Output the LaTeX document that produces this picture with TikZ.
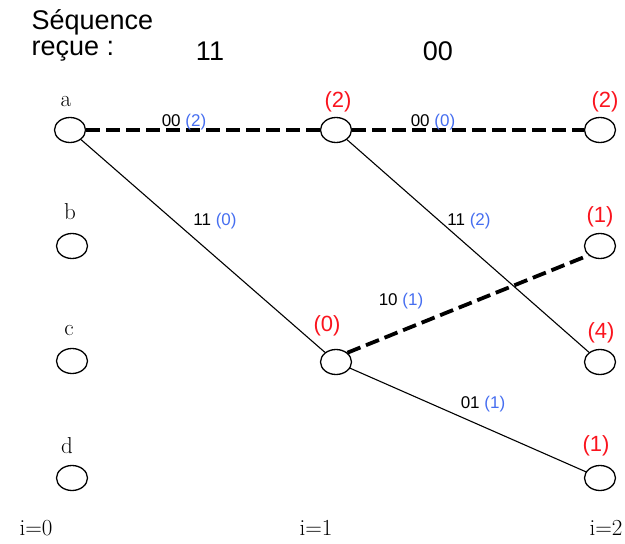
\documentclass[tikz,border=0pt]{standalone}
\usepackage{fontspec}
\setsansfont{Liberation Sans}
\usetikzlibrary{shapes.geometric}
\definecolor{cred}{RGB}{250,20,30}
\definecolor{cblue}{RGB}{70,110,240}
\begin{document}
\begin{tikzpicture}[x=1pt,y=-1pt,
  st/.style={draw,ellipse,line width=1.3pt,minimum width=31pt,minimum height=25pt,inner sep=0pt},
  lett/.style={font=\fontsize{23}{23}\selectfont},
  cost/.style={text=cred,font=\sffamily\fontsize{22}{22}\selectfont},
  elab/.style={font=\sffamily\fontsize{17}{17}\selectfont},
  surv/.style={line width=3.8pt,dash pattern=on 14pt off 6pt},
  other/.style={line width=1.1pt},
  ttl/.style={font=\sffamily\fontsize{27}{27}\selectfont}]
\useasboundingbox (0,0) rectangle (625,544);
% title
\node[ttl,anchor=west] (t1) at (28,22) {Séquence};
\node[ttl,anchor=west] (t2) at (28,51) {reçue :};
\node[ttl] (s1) at (210,51) {11};
\node[ttl] (s2) at (438,51) {00};
% states
\node[st] (a0) at (70,130) {};
\node[st] (b0) at (72,246) {};
\node[st] (c0) at (72,361) {};
\node[st] (d0) at (72,478) {};
\node[st] (a1) at (336,130) {};
\node[st] (c1) at (336,362) {};
\node[st] (a2) at (600,130) {};
\node[st] (b2) at (600,246) {};
\node[st] (c2) at (600,362) {};
\node[st] (d2) at (600,478) {};
% state letters
\node[lett] (la) at (66,102) {a};
\node[lett] (lb) at (70,212) {b};
\node[lett] (lc) at (69,331) {c};
\node[lett] (ld) at (67,446) {d};
% costs
\node[cost] (ka1) at (338,102) {(2)};
\node[cost] (kc1) at (327,326) {(0)};
\node[cost] (ka2) at (605,102) {(2)};
\node[cost] (kb2) at (600,217) {(1)};
\node[cost] (kc2) at (601,333) {(4)};
\node[cost] (kd2) at (596,446) {(1)};
% edges
\draw[other] (a0) -- (c1);
\draw[other] (a1) -- (c2);
\draw[other] (c1) -- (d2);
\draw[surv] (a0) -- (a1);
\draw[surv] (a1) -- (a2);
\draw[surv] (c1.north east) -- (b2.south west);
% edge labels
\node[elab] (e1) at (184,122) {00 \textcolor{cblue}{(2)}};
\node[elab] (e2) at (215,221) {11 \textcolor{cblue}{(0)}};
\node[elab] (e3) at (433,122) {00 \textcolor{cblue}{(0)}};
\node[elab] (e4) at (469,221) {11 \textcolor{cblue}{(2)}};
\node[elab] (e5) at (401,301) {10 \textcolor{cblue}{(1)}};
\node[elab] (e6) at (483,404) {01 \textcolor{cblue}{(1)}};
% time indices
\node[lett] (i0) at (36,528) {i=0};
\node[lett] (i1) at (316,528) {i=1};
\node[lett] (i2) at (606,528) {i=2};
\end{tikzpicture}
\end{document}
